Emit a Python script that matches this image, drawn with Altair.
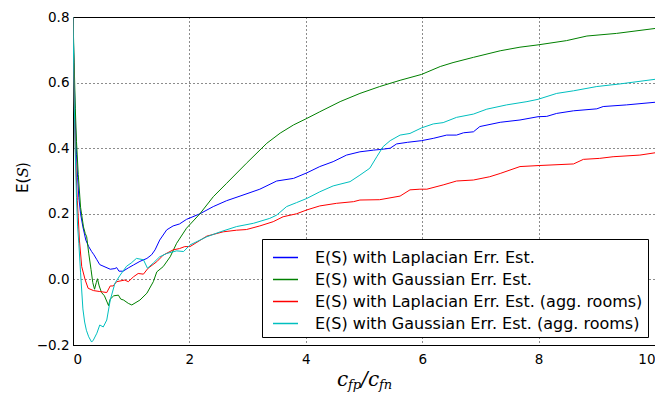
import altair as alt
import pandas as pd

series_names = [
    "E(S) with Laplacian Err. Est.",
    "E(S) with Gaussian Err. Est.",
    "E(S) with Laplacian Err. Est. (agg. rooms)",
    "E(S) with Gaussian Err. Est. (agg. rooms)",
]
series_colors = ["#0000ff", "#008000", "#ff0000", "#00bfbf"]

blue_x = [0, 0.02, 0.04, 0.06, 0.08, 0.1, 0.13, 0.17, 0.22, 0.27, 0.32, 0.36, 0.41, 0.46, 0.55, 0.64, 0.72, 0.75,
          0.79, 0.86, 0.95, 1.04, 1.15, 1.27, 1.35, 1.41, 1.49, 1.61, 1.72, 1.83, 1.95, 2.18, 2.41, 2.64, 2.87, 3.21,
          3.5, 3.79, 4.02, 4.24, 4.47, 4.7, 4.93, 5.16, 5.33, 5.45, 5.56, 5.75, 5.99, 6.19, 6.42, 6.59, 6.71, 6.88,
          6.99, 7.34, 7.68, 7.99, 8.14, 8.31, 8.6, 9.0, 9.11, 9.51, 10.0]
blue_y = [0.80, 0.62, 0.48, 0.38, 0.31, 0.25, 0.2, 0.16, 0.12, 0.10, 0.085, 0.075, 0.06, 0.045, 0.038, 0.031, 0.033,
          0.036, 0.025, 0.025, 0.035, 0.044, 0.055, 0.064, 0.075, 0.09, 0.12, 0.151, 0.163, 0.169, 0.183, 0.2, 0.222,
          0.24, 0.254, 0.275, 0.3, 0.308, 0.325, 0.344, 0.359, 0.379, 0.389, 0.394, 0.397, 0.40, 0.413, 0.418, 0.423,
          0.43, 0.44, 0.44, 0.447, 0.45, 0.466, 0.479, 0.486, 0.496, 0.497, 0.506, 0.514, 0.52, 0.527, 0.532, 0.54]

green_x = [0, 0.02, 0.04, 0.06, 0.09, 0.13, 0.18, 0.21, 0.235, 0.27, 0.31, 0.34, 0.37, 0.40, 0.42, 0.45, 0.49, 0.54,
           0.6, 0.61, 0.64, 0.7, 0.78, 0.82, 0.87, 0.95, 1.01, 1.15, 1.27, 1.38, 1.44, 1.55, 1.67, 1.78, 1.95, 2.18,
           2.41, 2.64, 2.98, 3.33, 3.56, 3.79, 4.02, 4.24, 4.59, 4.93, 5.27, 5.62, 5.99, 6.31, 6.53, 6.88, 7.34, 7.68,
           7.99, 8.48, 8.83, 9.34, 10.0]
green_y = [0.8, 0.66, 0.52, 0.42, 0.32, 0.22, 0.16, 0.14, 0.13, 0.08, 0.03, -0.01, -0.03, -0.01, 0.002, -0.02, -0.04,
           -0.05, -0.075, -0.08, -0.06, -0.05, -0.048, -0.06, -0.063, -0.073, -0.078, -0.063, -0.042, -0.007, 0.023,
           0.039, 0.069, 0.11, 0.156, 0.2, 0.252, 0.293, 0.354, 0.415, 0.446, 0.471, 0.491, 0.511, 0.542, 0.567, 0.588,
           0.607, 0.625, 0.649, 0.661, 0.677, 0.697, 0.708, 0.715, 0.728, 0.742, 0.75, 0.765]

red_x = [0, 0.02, 0.04, 0.06, 0.074, 0.09, 0.11, 0.15, 0.21, 0.26, 0.35, 0.46, 0.58, 0.64, 0.69, 0.75, 0.89, 0.95,
         1.04, 1.12, 1.21, 1.29, 1.44, 1.55, 1.72, 1.83, 1.92, 2.01, 2.3, 2.58, 2.81, 2.98, 3.21, 3.44, 3.61, 3.84,
         4.02, 4.24, 4.53, 4.82, 4.93, 5.27, 5.62, 5.79, 5.96, 6.08, 6.36, 6.59, 6.88, 7.16, 7.34, 7.68, 7.99, 8.6,
         8.77, 9.05, 9.28, 9.74, 10.0]
red_y = [0.8, 0.55, 0.4, 0.3, 0.24, 0.19, 0.12, 0.039, -0.002, -0.027, -0.034, -0.037, -0.04, -0.02, -0.02, -0.007,
         -0.002, -0.007, 0.008, 0.018, 0.016, 0.034, 0.054, 0.074, 0.09, 0.094, 0.1, 0.1, 0.132, 0.145, 0.15, 0.152,
         0.163, 0.176, 0.191, 0.2, 0.212, 0.224, 0.232, 0.237, 0.242, 0.243, 0.254, 0.273, 0.275, 0.275, 0.288, 0.3,
         0.303, 0.313, 0.323, 0.344, 0.347, 0.352, 0.366, 0.369, 0.374, 0.379, 0.386]

cyan_x = [0, 0.02, 0.04, 0.06, 0.08, 0.1, 0.13, 0.17, 0.2, 0.23, 0.27, 0.32, 0.35, 0.41, 0.46, 0.52, 0.58, 0.64, 0.72,
          0.81, 0.92, 1.0, 1.09, 1.21, 1.28, 1.38, 1.49, 1.61, 1.78, 1.9, 2.01, 2.3, 2.53, 2.81, 3.1, 3.38, 3.5, 3.67,
          3.84, 4.02, 4.24, 4.47, 4.76, 4.93, 5.1, 5.22, 5.33, 5.45, 5.62, 5.79, 5.99, 6.19, 6.36, 6.59, 6.88, 7.11,
          7.45, 7.8, 7.99, 8.31, 8.6, 9.0, 9.4, 10.0]
cyan_y = [0.8, 0.55, 0.38, 0.25, 0.16, 0.11, 0.02, -0.09, -0.13, -0.155, -0.175, -0.191, -0.185, -0.164, -0.139,
          -0.145, -0.124, -0.063, -0.012, 0.013, 0.04, 0.05, 0.064, 0.06, 0.034, 0.05, 0.069, 0.079, 0.087, 0.085,
          0.105, 0.13, 0.145, 0.161, 0.171, 0.186, 0.196, 0.222, 0.234, 0.247, 0.267, 0.285, 0.298, 0.318, 0.339,
          0.374, 0.405, 0.423, 0.44, 0.445, 0.462, 0.474, 0.478, 0.494, 0.504, 0.519, 0.532, 0.542, 0.549, 0.567,
          0.575, 0.588, 0.596, 0.61]

x_ticks = [0, 2, 4, 6, 8, 10]
y_ticks = [-0.2, 0.0, 0.2, 0.4, 0.6, 0.8]

rows = []
for name, xs, ys in zip(series_names, [blue_x, green_x, red_x, cyan_x], [blue_y, green_y, red_y, cyan_y]):
    for i, (xv, yv) in enumerate(zip(xs, ys)):
        rows.append({"series": name, "x": xv, "y": yv, "i": i})
df = pd.DataFrame(rows)

lines = alt.Chart(df).mark_line(clip=True, strokeWidth=1).encode(
    x=alt.X("x:Q", scale=alt.Scale(domain=[0, 10], nice=False),
            axis=alt.Axis(values=x_ticks, format="d", title=None, labelPadding=7,
                          labelFlush=True, labelFlushOffset=0)),
    y=alt.Y("y:Q", scale=alt.Scale(domain=[-0.2, 0.8], nice=False, zero=False),
            axis=alt.Axis(values=y_ticks, format=".1f", title=None, labelPadding=4)),
    color=alt.Color("series:N", scale=alt.Scale(domain=series_names, range=series_colors),
                    legend=alt.Legend(orient="none", legendX=189, legendY=222, title=None,
                                      symbolType="stroke", symbolSize=625, symbolStrokeWidth=1.5,
                                      labelFontSize=16, labelFont="DejaVu Sans", labelColor="black",
                                      padding=5, strokeColor="black", fillColor="white",
                                      labelOffset=16, symbolOffset=5, rowPadding=0, labelLimit=600)),
    detail="series:N",
    order="i:Q",
)

one = pd.DataFrame({"a": [0]})


def txt(s, x, y, size, italic=False, serif=False, angle=0):
    return alt.Chart(one).mark_text(
        text=s, font="DejaVu Serif" if serif else "DejaVu Sans",
        fontStyle="italic" if italic else "normal", fontSize=size,
        align="left", baseline="alphabetic", angle=angle, color="black",
    ).encode(x=alt.value(x), y=alt.value(y))


title_parts = [
    txt("c", 264, 369, 20, True, True),
    txt("fp", 275, 372, 13, True, True),
    txt("/", 288, 369, 20, True, True),
    txt("c", 295, 369, 20, True, True),
    txt("fn", 306, 372, 13, True, True),
    txt("E(", -45, 176, 15, False, False, 270),
    txt("S", -45, 160.5, 15, True, True, 270),
    txt(")", -45, 151, 15, False, False, 270),
]

chart = alt.layer(lines, *title_parts).properties(
    width=582, height=328,
    padding={"left": 65, "top": 9, "right": 0, "bottom": 49},
    autosize=alt.AutoSizeParams(type="none"),
).configure_view(stroke="black", strokeWidth=1).configure_axis(
    domainColor="black", grid=True, gridColor="black", gridDash=[1, 3], gridOpacity=0.9,
    ticks=False, labelFont="DejaVu Sans", labelFontSize=13.5, labelColor="black",
)

chart.save("out.html", embed_options={"renderer": "svg", "actions": False})
